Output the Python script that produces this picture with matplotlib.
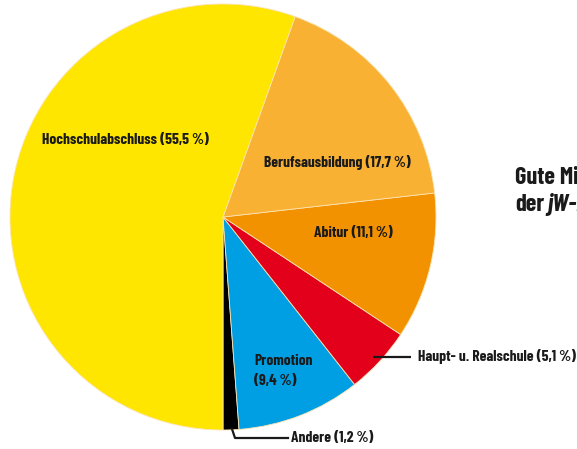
import matplotlib
matplotlib.use("Agg")
import matplotlib.pyplot as plt

# data (counterclockwise from 6 o'clock)
categories = ["Andere", "Promotion", "Haupt- u. Realschule", "Abitur",
              "Berufsausbildung", "Hochschulabschluss"]
shares = [1.2, 9.4, 5.1, 11.1, 17.7, 55.5]
labels = ["Andere (1,2\u2009%)", "Promotion\n(9,4\u2009%)",
          "Haupt- u. Realschule (5,1\u2009%)", "Abitur (11,1\u2009%)",
          "Berufsausbildung (17,7\u2009%)", "Hochschulabschluss (55,5\u2009%)"]
colors = ["#000000", "#009fe3", "#e2001a", "#f39200", "#f8b133", "#ffe600"]

FONT = ["Barlow Condensed", "DejaVu Sans"]

W, H = 577, 449
fig = plt.figure(figsize=(W / 100, H / 100), dpi=100)
ax = fig.add_axes([0, 0, 1, 1])

cx, cy, r = 223, 217, 213
# y axis inverted -> counterclock=False draws visually counterclockwise
ax.pie(shares, colors=colors, startangle=90, counterclock=False,
       center=(cx, cy), radius=r, frame=True,
       wedgeprops=dict(linewidth=0.6, edgecolor="#fbe3b0"))
ax.set_xlim(0, W)
ax.set_ylim(H, 0)
ax.set_aspect("equal")
ax.axis("off")

txt = dict(fontsize=11.2, fontweight=700, color="#1a1a1a", family=FONT)
ax.text(125, 140, labels[5], ha="center", va="center", **txt)
ax.text(337, 162, labels[4], ha="center", va="center", **txt)
ax.text(353, 233, labels[3], ha="center", va="center", **txt)
ax.text(254, 371, labels[1], ha="left", va="center", linespacing=1.5, **txt)
ax.text(418, 357, labels[2], ha="left", va="center", **txt)
ax.text(291, 438, labels[0], ha="left", va="center", **txt)

# leader lines
ax.plot([373, 411], [357, 357], color="#1a1a1a", lw=1.6, solid_capstyle="butt")
ax.plot([232, 235, 288], [429, 438, 438], color="#1a1a1a", lw=1.6)

# cut-off caption on the right
cap = dict(fontsize=17.5, fontweight=700, color="#1a1a1a", family=FONT,
           ha="left", va="center")
ax.text(515, 178, "Gute Mitarbeiter", **cap)
ax.text(515, 205, "der", **cap)
ax.text(547, 205, "jW-Leser", fontstyle="italic", **cap)

fig.savefig("out.png", dpi=100)
